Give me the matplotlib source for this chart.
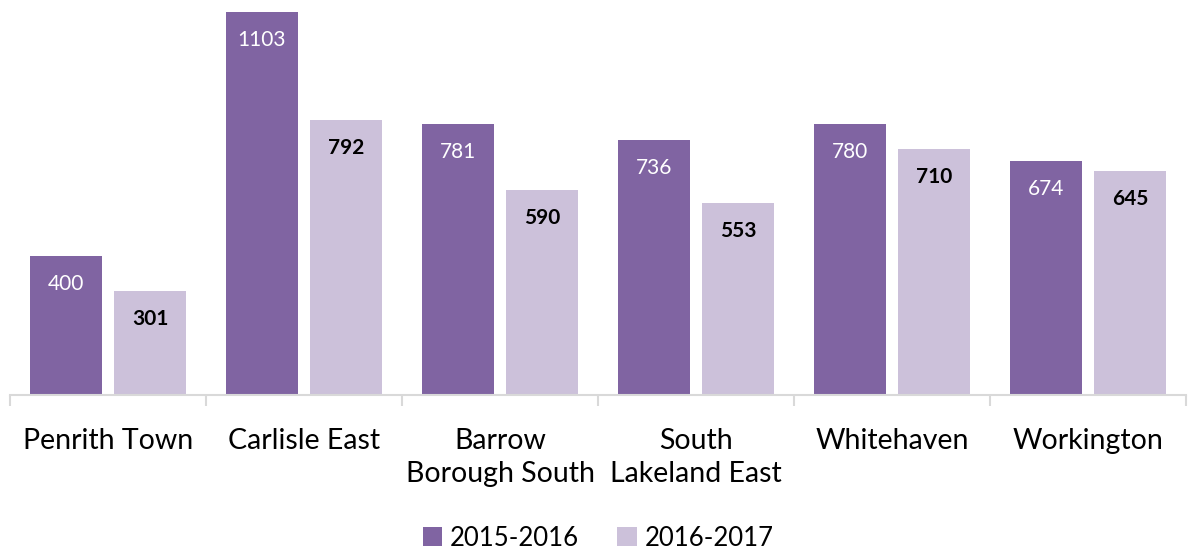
import matplotlib
matplotlib.use("Agg")
import matplotlib.pyplot as plt
import numpy as np

categories = ["Penrith Town", "Carlisle East", "Barrow\nBorough South", "South\nLakeland East", "Whitehaven", "Workington"]
series_names = ["2015-2016", "2016-2017"]
values_2015 = [400, 1103, 781, 736, 780, 674]
values_2016 = [301, 792, 590, 553, 710, 645]

plt.rcParams['font.family'] = ['Lato', 'DejaVu Sans']
c1 = "#8064A2"
c2 = "#CCC1DA"

fig = plt.figure(figsize=(11.96, 5.52), dpi=100)
ax = fig.add_axes([10/1196, 157/552, 1176/1196, 395/552])
x = np.arange(len(categories))
w = 0.37
off = 0.215
b1 = ax.bar(x - off, values_2015, w, color=c1, label=series_names[0])
b2 = ax.bar(x + off, values_2016, w, color=c2, label=series_names[1])
ax.set_xlim(-0.5, len(categories) - 0.5)
ax.set_ylim(0, 1138)

for r, v in zip(b1, values_2015):
    ax.annotate(str(v), (r.get_x() + r.get_width()/2, v), xytext=(0, -28), textcoords='offset pixels',
                ha='center', va='center', color='white', fontsize=15)
for r, v in zip(b2, values_2016):
    ax.annotate(str(v), (r.get_x() + r.get_width()/2, v), xytext=(0, -28), textcoords='offset pixels',
                ha='center', va='center', color='black', fontsize=15, fontweight='bold')

for s in ['top', 'right', 'left']:
    ax.spines[s].set_visible(False)
ax.spines['bottom'].set_color('#d9d9d9')
ax.spines['bottom'].set_linewidth(1.5)
ax.set_yticks([])
ax.set_xticks(x)
ax.set_xticklabels(categories, fontsize=20.5, linespacing=1.32)
ax.set_xticks(np.arange(-0.5, len(categories)), minor=True)
ax.tick_params(axis='x', which='major', length=0, pad=24)
ax.tick_params(axis='x', which='minor', length=8, color='#d9d9d9', width=1.5)

fig.legend(handles=[b1, b2], labels=series_names, loc='center', bbox_to_anchor=(0.5, 1 - 538/552),
           ncol=2, frameon=False, fontsize=18.5, handlelength=0.75, handleheight=0.75, handletextpad=0.3, columnspacing=1.5)

fig.savefig("out.png", dpi=100)
